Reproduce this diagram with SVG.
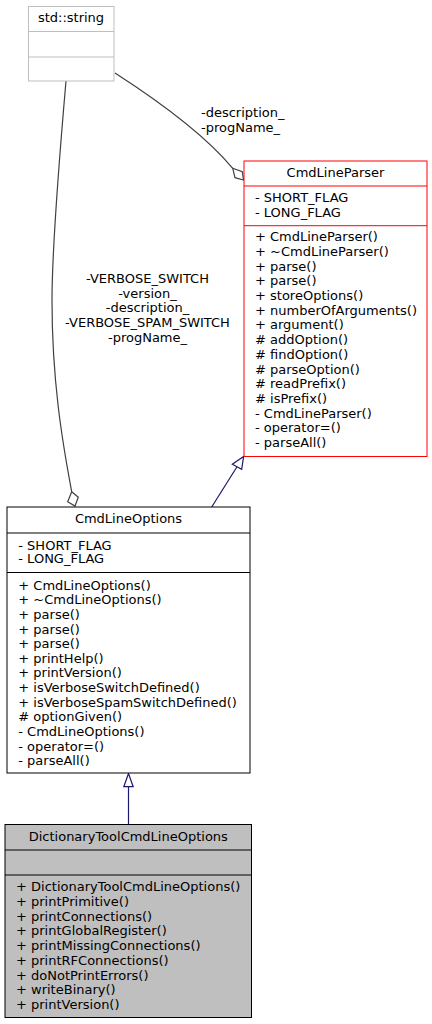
<svg xmlns="http://www.w3.org/2000/svg" width="432" height="1024" viewBox="0 0 432 1024">
<style>
text{font-family:"DejaVu Sans","Liberation Sans",sans-serif;font-size:13px;fill:#000}
.c{text-anchor:middle}
.box{fill:#fff;stroke:#000;stroke-width:1}
.agg{fill:none;stroke:#404040;stroke-width:1.2}
.dia{fill:#fff;stroke:#404040;stroke-width:1.2}
.inh{fill:none;stroke:#191970;stroke-width:1.2}
.tri{fill:#fff;stroke:#191970;stroke-width:1.2}
</style>
<rect width="432" height="1024" fill="#fff"/>
<g id="edges">
<path class="agg" d="M115,73 C160,102 205,135 232.7,168.3"/>
<polygon class="dia" points="232.7,168.3 242.3,171.7 243.5,180 235,177.7"/>
<path class="agg" d="M66,81 C60,150 52,250 52,300 C52,380 62,440 71.7,491.7"/>
<polygon class="dia" points="71.7,491.7 78.3,497.3 75,506 67.7,501.7"/>
<line class="inh" x1="211.7" y1="507" x2="237" y2="466.8"/>
<polygon class="tri" points="243.6,456.5 232.3,464.3 241.7,469.3"/>
<line class="inh" x1="128.5" y1="824" x2="128.5" y2="786.7"/>
<polygon class="tri" points="128.5,773.5 123.8,786.7 133.2,786.7"/>
<text x="201" y="117">-description_</text>
<text x="201" y="132">-progName_</text>
<text class="c" x="147.5" y="283">-VERBOSE_SWITCH</text>
<text class="c" x="147.5" y="297.7">-version_</text>
<text class="c" x="147.5" y="312.4">-description_</text>
<text class="c" x="147.5" y="327.1">-VERBOSE_SPAM_SWITCH</text>
<text class="c" x="147.5" y="341.8">-progName_</text>
</g>
<g id="std_string">
<rect x="28.5" y="6.5" width="85.5" height="74.5" fill="#fff" stroke="#bfbfbf"/>
<line x1="28.5" y1="31.5" x2="114" y2="31.5" stroke="#bfbfbf"/>
<line x1="28.5" y1="57" x2="114" y2="57" stroke="#bfbfbf"/>
<text class="c" x="71" y="22">std::string</text>
</g>
<g id="CmdLineParser">
<rect x="244" y="161" width="183" height="295.5" fill="#fff" stroke="#ff0000"/>
<line x1="244" y1="186" x2="427" y2="186" stroke="#ff0000"/>
<line x1="244" y1="225.7" x2="427" y2="225.7" stroke="#ff0000"/>
<text class="c" x="335.5" y="177">CmdLineParser</text>
<text x="255" y="202">- SHORT_FLAG</text>
<text x="255" y="217">- LONG_FLAG</text>
<text x="255" y="241.3">+ CmdLineParser()</text>
<text x="255" y="256">+ ~CmdLineParser()</text>
<text x="255" y="270.7">+ parse()</text>
<text x="255" y="285.4">+ parse()</text>
<text x="255" y="300.1">+ storeOptions()</text>
<text x="255" y="314.8">+ numberOfArguments()</text>
<text x="255" y="329.4">+ argument()</text>
<text x="255" y="344.1"># addOption()</text>
<text x="255" y="358.8"># findOption()</text>
<text x="255" y="373.5"># parseOption()</text>
<text x="255" y="388.2"># readPrefix()</text>
<text x="255" y="402.9"># isPrefix()</text>
<text x="255" y="417.6">- CmdLineParser()</text>
<text x="255" y="432.3">- operator=()</text>
<text x="255" y="447">- parseAll()</text>
</g>
<g id="CmdLineOptions">
<rect class="box" x="7" y="507" width="243" height="266"/>
<line x1="7" y1="533" x2="250" y2="533" stroke="#000"/>
<line x1="7" y1="572.5" x2="250" y2="572.5" stroke="#000"/>
<text class="c" x="128.5" y="523.3">CmdLineOptions</text>
<text x="18.3" y="549.6">- SHORT_FLAG</text>
<text x="18.3" y="563">- LONG_FLAG</text>
<text x="18.3" y="589.6">+ CmdLineOptions()</text>
<text x="18.3" y="604.2">+ ~CmdLineOptions()</text>
<text x="18.3" y="618.9">+ parse()</text>
<text x="18.3" y="633.5">+ parse()</text>
<text x="18.3" y="648.2">+ parse()</text>
<text x="18.3" y="662.8">+ printHelp()</text>
<text x="18.3" y="677.4">+ printVersion()</text>
<text x="18.3" y="692.1">+ isVerboseSwitchDefined()</text>
<text x="18.3" y="706.7">+ isVerboseSpamSwitchDefined()</text>
<text x="18.3" y="721.4"># optionGiven()</text>
<text x="18.3" y="736">- CmdLineOptions()</text>
<text x="18.3" y="750.6">- operator=()</text>
<text x="18.3" y="765.3">- parseAll()</text>
</g>
<g id="DictionaryToolCmdLineOptions">
<rect x="5" y="824.5" width="246.5" height="193" fill="#bfbfbf" stroke="#000"/>
<line x1="5" y1="850" x2="251.5" y2="850" stroke="#000"/>
<line x1="5" y1="875" x2="251.5" y2="875" stroke="#000"/>
<text class="c" x="128.3" y="841.3">DictionaryToolCmdLineOptions</text>
<text x="16" y="891.3">+ DictionaryToolCmdLineOptions()</text>
<text x="16" y="906">+ printPrimitive()</text>
<text x="16" y="920.7">+ printConnections()</text>
<text x="16" y="935.4">+ printGlobalRegister()</text>
<text x="16" y="950.1">+ printMissingConnections()</text>
<text x="16" y="964.8">+ printRFConnections()</text>
<text x="16" y="979.5">+ doNotPrintErrors()</text>
<text x="16" y="994.2">+ writeBinary()</text>
<text x="16" y="1008.9">+ printVersion()</text>
</g>
</svg>
